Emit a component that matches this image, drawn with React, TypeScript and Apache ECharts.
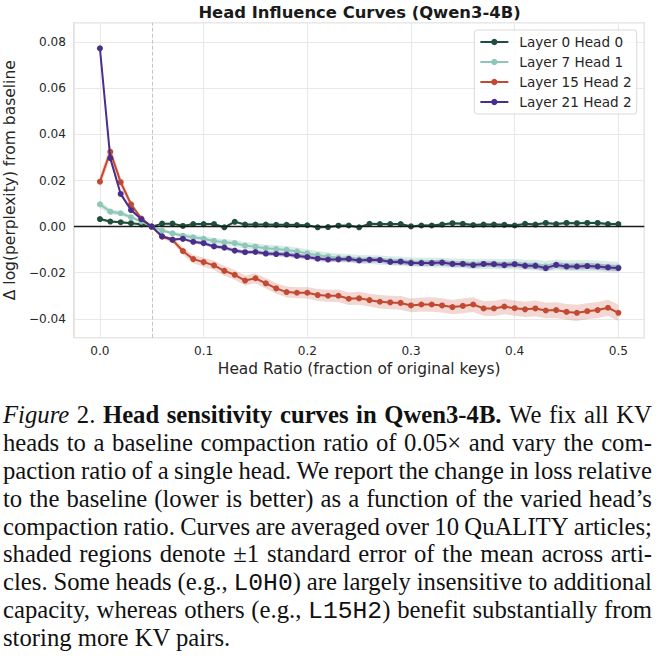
import React, { useEffect, useRef } from "react";
import * as echarts from "echarts";

// ---------- data ----------
const X = [
  0.0, 0.01, 0.02, 0.03, 0.04, 0.05, 0.06, 0.07, 0.08, 0.09,
  0.1, 0.11, 0.12, 0.13, 0.14, 0.15, 0.16, 0.17, 0.18, 0.19,
  0.2, 0.21, 0.22, 0.23, 0.24, 0.25, 0.26, 0.27, 0.28, 0.29,
  0.3, 0.31, 0.32, 0.33, 0.34, 0.35, 0.36, 0.37, 0.38, 0.39,
  0.4, 0.41, 0.42, 0.43, 0.44, 0.45, 0.46, 0.47, 0.48, 0.49, 0.5,
];

const L0H0 = [
  0.0033, 0.0022, 0.0019, 0.0015, 0.001, 0.0, 0.0013, 0.0013, 0.0003, 0.0011,
  0.0011, 0.0011, -0.0003, 0.0021, 0.0009, 0.0009, 0.0009, 0.0008, 0.0008, 0.0007,
  0.0006, -0.0003, -0.0002, 0.0004, 0.0005, -0.0003, 0.0012, 0.0011, 0.0011, 0.0011,
  0.0001, 0.0005, 0.0005, 0.0009, 0.0015, 0.0012, 0.0007, 0.0009, 0.0009, 0.0008,
  0.0005, 0.0012, 0.0009, 0.0016, 0.0011, 0.0016, 0.0015, 0.0016, 0.0016, 0.0011, 0.0011,
];
const L0H0_SE = [
  0.0006, 0.0005, 0.0005, 0.0004, 0.0003, 0.0, 0.0003, 0.0004, 0.0004, 0.0004,
  0.0005, 0.0005, 0.0005, 0.0005, 0.0005, 0.0005, 0.0005, 0.0005, 0.0005, 0.0005,
  0.0005, 0.0005, 0.0005, 0.0005, 0.0005, 0.0005, 0.0005, 0.0005, 0.0005, 0.0005,
  0.0005, 0.0006, 0.0006, 0.0006, 0.0006, 0.0006, 0.0006, 0.0006, 0.0006, 0.0006,
  0.0006, 0.0006, 0.0006, 0.0006, 0.0006, 0.0006, 0.0006, 0.0006, 0.0006, 0.0006, 0.0006,
];

const L7H1 = [
  0.0097, 0.0065, 0.0058, 0.0041, 0.0022, 0.0, -0.0017, -0.0029, -0.004, -0.0046,
  -0.0053, -0.0062, -0.0068, -0.0072, -0.0082, -0.0087, -0.0094, -0.0097, -0.0101, -0.0108,
  -0.0116, -0.0124, -0.013, -0.0135, -0.0138, -0.0142, -0.0143, -0.0145, -0.0149, -0.015,
  -0.0154, -0.0155, -0.0156, -0.0156, -0.0159, -0.016, -0.0163, -0.0162, -0.0162, -0.0164,
  -0.0163, -0.0166, -0.0167, -0.0172, -0.0166, -0.017, -0.017, -0.017, -0.0171, -0.0174, -0.0176,
];
const L7H1_SE = [
  0.0015, 0.0012, 0.001, 0.0008, 0.0005, 0.0, 0.0006, 0.0008, 0.001, 0.0011,
  0.0012, 0.0013, 0.0013, 0.0014, 0.0014, 0.0015, 0.0015, 0.0016, 0.0016, 0.0017,
  0.0017, 0.0018, 0.0018, 0.0018, 0.0019, 0.0019, 0.0019, 0.002, 0.002, 0.002,
  0.002, 0.002, 0.0021, 0.0021, 0.0021, 0.0021, 0.0022, 0.0022, 0.0022, 0.0022,
  0.0022, 0.0022, 0.0023, 0.0023, 0.0023, 0.0023, 0.0024, 0.0024, 0.0024, 0.0024, 0.0024,
];

const L15H2 = [
  0.0195, 0.0325, 0.0193, 0.0097, 0.0035, 0.0, -0.0044, -0.0058, -0.0106, -0.0141,
  -0.0154, -0.0168, -0.0192, -0.0209, -0.0234, -0.0224, -0.0246, -0.0268, -0.0284, -0.0287,
  -0.0287, -0.0297, -0.03, -0.03, -0.0313, -0.0311, -0.0319, -0.0326, -0.0329, -0.0331,
  -0.0342, -0.0338, -0.0338, -0.0342, -0.0349, -0.0344, -0.0338, -0.0355, -0.0355, -0.0347,
  -0.0354, -0.0359, -0.0355, -0.0364, -0.0362, -0.037, -0.0374, -0.0367, -0.0362, -0.0352, -0.0374,
];
const L15H2_SE = [
  0.0025, 0.003, 0.0022, 0.0015, 0.0008, 0.0, 0.0008, 0.0012, 0.0016, 0.0018,
  0.002, 0.002, 0.0021, 0.0021, 0.0022, 0.0022, 0.0023, 0.0023, 0.0024, 0.0024,
  0.0025, 0.0026, 0.0026, 0.0027, 0.0027, 0.0028, 0.0028, 0.0029, 0.0029, 0.003,
  0.003, 0.003, 0.0031, 0.0031, 0.0031, 0.0032, 0.0032, 0.0032, 0.0033, 0.0033,
  0.0033, 0.0033, 0.0034, 0.0034, 0.0034, 0.0034, 0.0035, 0.0035, 0.0035, 0.0035, 0.0035,
];

const L21H2 = [
  0.0774, 0.0297, 0.0142, 0.0072, 0.0032, 0.0, -0.0042, -0.0056, -0.0053, -0.0066,
  -0.0072, -0.0086, -0.0091, -0.0104, -0.0111, -0.011, -0.0117, -0.0119, -0.0121, -0.0127,
  -0.0132, -0.0139, -0.0143, -0.0142, -0.014, -0.0147, -0.0144, -0.0145, -0.0153, -0.0152,
  -0.0158, -0.0158, -0.0158, -0.0156, -0.0162, -0.0162, -0.0167, -0.0162, -0.0163, -0.0167,
  -0.0163, -0.017, -0.017, -0.018, -0.0166, -0.0173, -0.0173, -0.0171, -0.0173, -0.0177, -0.018,
];
const L21H2_SE = [
  0.002, 0.0015, 0.001, 0.0007, 0.0004, 0.0, 0.0005, 0.0006, 0.0006, 0.0007,
  0.0008, 0.0008, 0.0008, 0.0009, 0.0009, 0.0009, 0.0009, 0.001, 0.001, 0.001,
  0.001, 0.001, 0.001, 0.001, 0.0011, 0.0011, 0.0011, 0.0011, 0.0011, 0.0011,
  0.0011, 0.0011, 0.0012, 0.0012, 0.0012, 0.0012, 0.0012, 0.0012, 0.0012, 0.0012,
  0.0012, 0.0012, 0.0013, 0.0013, 0.0013, 0.0013, 0.0013, 0.0013, 0.0013, 0.0013, 0.0013,
];

const SERIES_NAMES = ["Layer 0 Head 0", "Layer 7 Head 1", "Layer 15 Head 2", "Layer 21 Head 2"];
const X_TICKS = [0.0, 0.1, 0.2, 0.3, 0.4, 0.5];
const Y_TICKS = [-0.04, -0.02, 0.0, 0.02, 0.04, 0.06, 0.08];
const BASELINE_RATIO = 0.05;

const TITLE = "Head Influence Curves (Qwen3-4B)";
const X_NAME = "Head Ratio (fraction of original keys)";
const Y_NAME = "\u0394 log(perplexity) from baseline";

const CAPTION_LINES = [
  "*Figure* 2. **Head** **sensitivity** **curves** **in** **Qwen3-4B.** We fix all KV",
  "heads to a baseline compaction ratio of 0.05\u00d7 and vary the com-",
  "paction ratio of a single head. We report the change in loss relative",
  "to the baseline (lower is better) as a function of the varied head\u2019s",
  "compaction ratio. Curves are averaged over 10 QuALITY articles;",
  "shaded regions denote \u00b11 standard error of the mean across arti-",
  "cles. Some heads (e.g., `L0H0`) are largely insensitive to additional",
  "capacity, whereas others (e.g., `L15H2`) benefit substantially from",
  "storing more KV pairs.",
];

// ---------- styles ----------
const COLORS = ["#1e4f3c", "#8ec6b8", "#c24a33", "#4a2e8c"];
const BAND_OPACITY = [0.25, 0.35, 0.22, 0.3];
const FONT = "DejaVu Sans";
const TEXT = "#262626";
const W = 660;
const H = 395;

function renderSegments(word: string, key: number) {
  const parts = word.split(/(\*\*[^*]+\*\*|\*[^*]+\*|`[^`]+`)/).filter((p) => p.length > 0);
  return (
    <span key={key} style={{ whiteSpace: "pre" }}>
      {parts.map((p, i) => {
        if (p.startsWith("**")) return <b key={i}>{p.slice(2, -2)}</b>;
        if (p.startsWith("*")) return <i key={i}>{p.slice(1, -1)}</i>;
        if (p.startsWith("`"))
          return (
            <span key={i} style={{ fontFamily: "'Liberation Mono', monospace" }}>
              {p.slice(1, -1)}
            </span>
          );
        return <span key={i}>{p}</span>;
      })}
    </span>
  );
}

export default function App() {
  const ref = useRef<HTMLDivElement>(null);

  useEffect(() => {
    if (!ref.current) return;
    const chart = echarts.init(ref.current, undefined, { renderer: "svg" });
    const means = [L0H0, L7H1, L15H2, L21H2];
    const ses = [L0H0_SE, L7H1_SE, L15H2_SE, L21H2_SE];

    const bandSeries = means.map((m, k) => ({
      type: "custom",
      name: SERIES_NAMES[k] + " SE",
      silent: true,
      clip: true,
      z: 1,
      data: X.map((x, i) => [x, m[i] - ses[k][i], m[i] + ses[k][i]]),
      encode: { x: 0, y: [1, 2] },
      renderItem: (params: any, api: any) => {
        if (params.dataIndex !== 0) return null;
        const upper = X.map((x, i) => api.coord([x, m[i] + ses[k][i]]));
        const lower = X.map((x, i) => api.coord([x, m[i] - ses[k][i]])).reverse();
        return {
          type: "polygon",
          shape: { points: upper.concat(lower) },
          style: { fill: COLORS[k], opacity: BAND_OPACITY[k], stroke: "none" },
        };
      },
    }));

    const lineSeries = means.map((m, k) => ({
      type: "line",
      name: SERIES_NAMES[k],
      data: X.map((x, i) => [x, m[i]]),
      symbol: "circle",
      symbolSize: 6,
      showSymbol: true,
      silent: true,
      z: 3 + k,
      lineStyle: { width: 2, color: COLORS[k] },
      itemStyle: { color: COLORS[k] },
      ...(k === 0
        ? {
            markLine: {
              silent: true,
              symbol: ["none", "none"],
              label: { show: false },
              data: [
                { yAxis: 0, lineStyle: { color: "#1a1a1a", width: 1.3, type: "solid" } },
                { xAxis: BASELINE_RATIO, lineStyle: { color: "#c4c4c4", width: 1, type: [4, 2] } },
              ],
            },
          }
        : {}),
    }));

    const yFmt = (v: number) => {
      if (!Y_TICKS.some((t) => Math.abs(t - v) < 1e-9)) return "";
      if (Math.abs(v) < 1e-9) return "0.00";
      return (v < 0 ? "\u2212" : "") + Math.abs(v).toFixed(2);
    };
    const xFmt = (v: number) => (X_TICKS.some((t) => Math.abs(t - v) < 1e-9) ? v.toFixed(1) : "");

    chart.setOption({
      animation: false,
      grid: {
        left: 74,
        right: W - 644.3,
        top: 22.7,
        bottom: H - 337.7,
        show: true,
        borderColor: "#cccccc",
        borderWidth: 1.2,
        outerBoundsMode: "none",
      },
      graphic: [
        {
          type: "text",
          x: 359.5,
          y: 12,
          silent: true,
          style: {
            text: TITLE,
            fill: "#1a1a1a",
            font: `bold 16.4px '${FONT}'`,
            textAlign: "center",
            textVerticalAlign: "middle",
          },
        },
      ],
      legend: {
        data: SERIES_NAMES,
        orient: "vertical",
        right: W - 636.7,
        top: 30,
        itemWidth: 28,
        itemHeight: 8,
        itemGap: 0,
        padding: [2, 5, 2, 5],
        selectedMode: false,
        backgroundColor: "rgba(255,255,255,0.8)",
        borderColor: "#d9d9d9",
        borderWidth: 1,
        borderRadius: 3,
        textStyle: {
          fontFamily: FONT,
          fontSize: 13.6,
          color: TEXT,
          lineHeight: 20,
          padding: [0, 0, 0, 6],
        },
      },
      xAxis: {
        type: "value",
        min: -0.025,
        max: 0.525,
        splitNumber: 5,
        minInterval: 0.1,
        maxInterval: 0.1,
        axisLine: { show: false },
        axisTick: { show: false },
        axisLabel: {
          customValues: X_TICKS,
          formatter: xFmt,
          color: TEXT,
          fontFamily: FONT,
          fontSize: 12.1,
          margin: 7,
        },
        splitLine: { show: true, lineStyle: { color: "#e8e8e8", width: 1 } },
        name: X_NAME,
        nameLocation: "middle",
        nameGap: 21,
        nameTextStyle: { fontFamily: FONT, fontSize: 15.4, color: TEXT },
      },
      yAxis: {
        type: "value",
        min: -0.0482,
        max: 0.0885,
        splitNumber: 7,
        minInterval: 0.02,
        maxInterval: 0.02,
        axisLine: { show: false },
        axisTick: { show: false },
        axisLabel: {
          customValues: Y_TICKS,
          formatter: yFmt,
          color: TEXT,
          fontFamily: FONT,
          fontSize: 12.1,
          margin: 8,
        },
        splitLine: { show: true, lineStyle: { color: "#e8e8e8", width: 1 } },
        name: Y_NAME,
        nameLocation: "middle",
        nameGap: 50,
        nameTextStyle: { fontFamily: FONT, fontSize: 15.5, color: TEXT },
      },
      series: [...bandSeries, ...lineSeries],
    });
    return () => chart.dispose();
  }, []);

  const lineH = 27.9;
  return (
    <div
      style={{
        position: "fixed",
        left: 0,
        top: 0,
        width: W,
        height: 660,
        background: "#ffffff",
        overflow: "hidden",
      }}
    >
      <div ref={ref} style={{ position: "absolute", left: 0, top: 0, width: W, height: H }} />
      <div
        style={{
          position: "absolute",
          left: 3,
          top: 401,
          width: 649,
          fontFamily: "'Liberation Serif', 'Times New Roman', serif",
          fontSize: 24.7,
          color: "#111111",
        }}
      >
        {CAPTION_LINES.map((line, li) => {
          const last = li === CAPTION_LINES.length - 1;
          const words = line.split(" ");
          return (
            <div
              key={li}
              style={{
                height: lineH,
                lineHeight: `${lineH}px`,
                display: "flex",
                alignItems: "baseline",
                justifyContent: last ? "flex-start" : "space-between",
                whiteSpace: "pre",
              }}
            >
              {last ? <span>{line}</span> : words.map((w, wi) => renderSegments(w, wi))}
            </div>
          );
        })}
      </div>
    </div>
  );
}
